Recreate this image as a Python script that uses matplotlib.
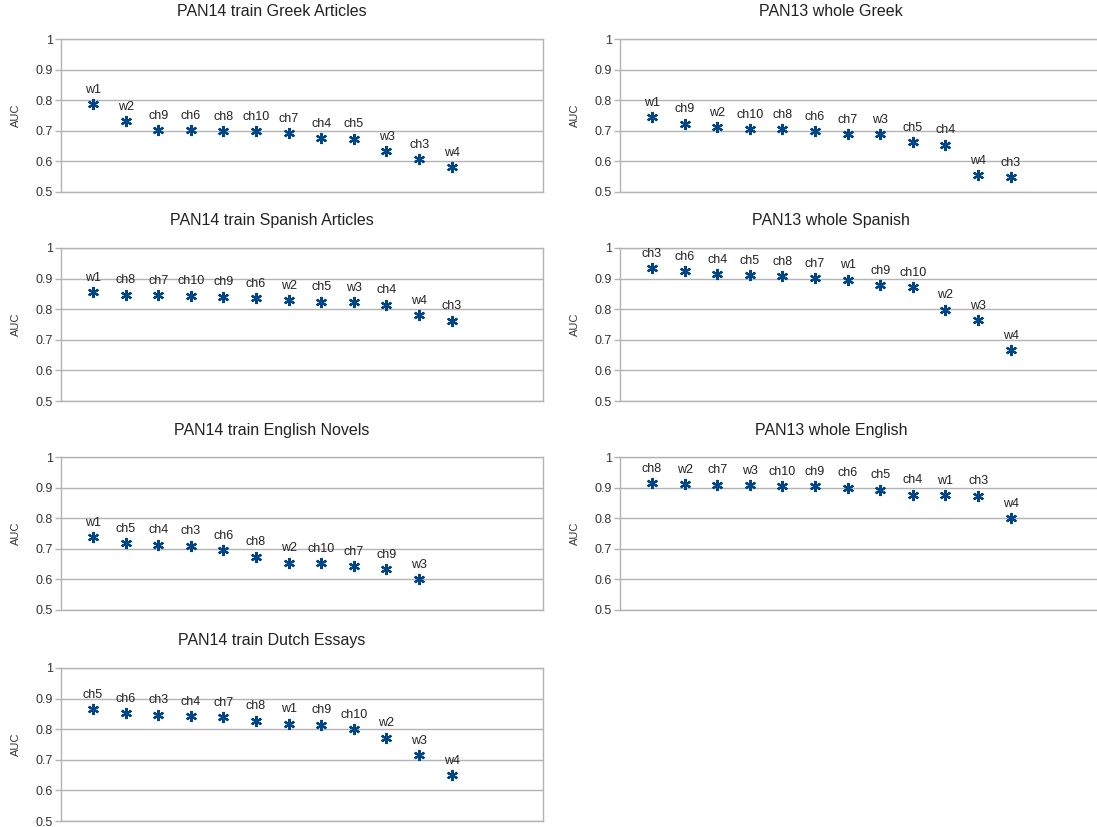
import matplotlib.pyplot as plt

plt.rcParams["font.family"] = ["Liberation Sans", "DejaVu Sans"]

# AUC per feature set, sorted as in each corpus
greek14_labels = ["w1", "w2", "ch9", "ch6", "ch8", "ch10", "ch7", "ch4", "ch5", "w3", "ch3", "w4"]
greek14_auc = [0.788, 0.732, 0.702, 0.702, 0.699, 0.699, 0.693, 0.677, 0.674, 0.633, 0.607, 0.581]

greek13_labels = ["w1", "ch9", "w2", "ch10", "ch8", "ch6", "ch7", "w3", "ch5", "ch4", "w4", "ch3"]
greek13_auc = [0.745, 0.723, 0.712, 0.705, 0.705, 0.699, 0.690, 0.688, 0.662, 0.655, 0.555, 0.548]

spanish14_labels = ["w1", "ch8", "ch7", "ch10", "ch9", "ch6", "w2", "ch5", "w3", "ch4", "w4", "ch3"]
spanish14_auc = [0.856, 0.847, 0.845, 0.844, 0.841, 0.837, 0.829, 0.825, 0.823, 0.815, 0.780, 0.763]

spanish13_labels = ["ch3", "ch6", "ch4", "ch5", "ch8", "ch7", "w1", "ch9", "ch10", "w2", "w3", "w4"]
spanish13_auc = [0.934, 0.925, 0.915, 0.911, 0.907, 0.902, 0.897, 0.879, 0.873, 0.799, 0.764, 0.666]

english14_labels = ["w1", "ch5", "ch4", "ch3", "ch6", "ch8", "w2", "ch10", "ch7", "ch9", "w3"]
english14_auc = [0.737, 0.718, 0.713, 0.710, 0.696, 0.674, 0.655, 0.653, 0.643, 0.634, 0.601]

english13_labels = ["ch8", "w2", "ch7", "w3", "ch10", "ch9", "ch6", "ch5", "ch4", "w1", "ch3", "w4"]
english13_auc = [0.915, 0.912, 0.910, 0.907, 0.904, 0.904, 0.900, 0.893, 0.877, 0.876, 0.874, 0.800]

dutch14_labels = ["ch5", "ch6", "ch3", "ch4", "ch7", "ch8", "w1", "ch9", "ch10", "w2", "w3", "w4"]
dutch14_auc = [0.865, 0.853, 0.847, 0.842, 0.840, 0.828, 0.818, 0.815, 0.801, 0.772, 0.715, 0.649]

panels = [
    ("PAN14 train Greek Articles", greek14_labels, greek14_auc, 0, 0),
    ("PAN13 whole Greek", greek13_labels, greek13_auc, 0, 1),
    ("PAN14 train Spanish Articles", spanish14_labels, spanish14_auc, 1, 0),
    ("PAN13 whole Spanish", spanish13_labels, spanish13_auc, 1, 1),
    ("PAN14 train English Novels", english14_labels, english14_auc, 2, 0),
    ("PAN13 whole English", english13_labels, english13_auc, 2, 1),
    ("PAN14 train Dutch Essays", dutch14_labels, dutch14_auc, 3, 0),
]

W, H = 1097, 827
BLUE = "#004586"
GRID = "#b3b3b3"

fig = plt.figure(figsize=(W / 100, H / 100), dpi=100)

row_tops = [39, 248, 457, 668]
col_lefts = [61, 620]
ax_w, ax_h = 482, 153

for title, labels, auc, row, col in panels:
    left, top = col_lefts[col], row_tops[row]
    ax = fig.add_axes([left / W, 1 - (top + ax_h) / H, ax_w / W, ax_h / H])
    xs = range(len(auc))
    ax.plot(xs, auc, linestyle="none", marker=(6, 2, 0), markersize=8,
            markeredgewidth=1.6, color=BLUE)
    for x, y, lab in zip(xs, auc, labels):
        ax.annotate(lab, (x, y), xytext=(0, 6), textcoords="offset points",
                    ha="center", va="bottom", fontsize=9, color="#222222")
    ax.set_xlim(-0.98, 13.8)
    ax.set_ylim(0.5, 1.0)
    ax.set_yticks([0.5, 0.6, 0.7, 0.8, 0.9, 1.0])
    ax.set_yticklabels(["0.5", "0.6", "0.7", "0.8", "0.9", "1"])
    ax.set_xticks([])
    ax.grid(axis="y", color=GRID, linewidth=1)
    ax.set_axisbelow(True)
    for side in ["left", "right", "top", "bottom"]:
        ax.spines[side].set_color(GRID)
        ax.spines[side].set_linewidth(1)
    ax.tick_params(axis="y", length=4, width=1, color=GRID, pad=2,
                   labelsize=9, labelcolor="#333333")
    ax.set_ylabel("AUC", fontsize=8, color="#333333", labelpad=10)
    # chart title sits centred over the whole panel, above the plot area
    fig.text((left - 61 + 272) / W, 1 - (top - 27) / H, title, ha="center", va="center",
             fontsize=11.5, color="#222222")

fig.savefig("out.png", dpi=100)
